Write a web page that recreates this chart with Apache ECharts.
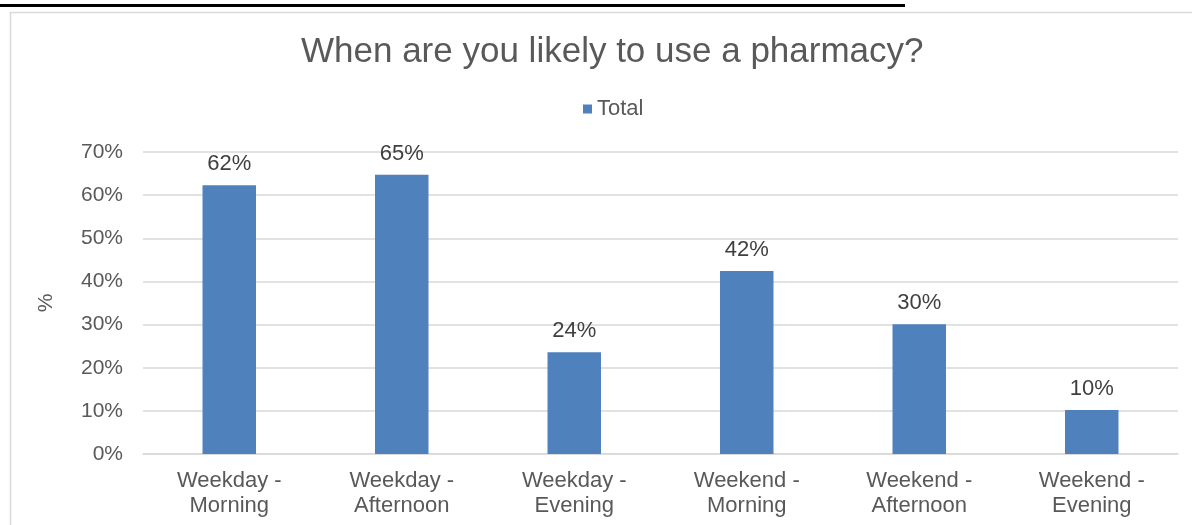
<!DOCTYPE html>
<html><head><meta charset="utf-8">
<script src="https://cdn.jsdelivr.net/npm/echarts@6/dist/echarts.min.js"></script>
<style>html,body{margin:0;padding:0;background:#fff}#c{width:1192px;height:525px}</style>
</head><body><div id="c"></div>
<script>
const title = 'When are you likely to use a pharmacy?';
const seriesName = 'Total';
const categories = ['Weekday -\nMorning','Weekday -\nAfternoon','Weekday -\nEvening','Weekend -\nMorning','Weekend -\nAfternoon','Weekend -\nEvening'];
const values = [62.3, 64.7, 23.6, 42.4, 30.1, 10.2];
const yTicks = [0, 10, 20, 30, 40, 50, 60, 70];

const chart = echarts.init(document.getElementById('c'));
const font = '"Liberation Sans", Arial, sans-serif';
chart.setOption({
  animation: false,
  textStyle: {fontFamily: font},
  graphic: [
    {type:'rect', shape:{x:10.5,y:12.5,width:1300,height:600}, style:{fill:'none',stroke:'#d9d9d9',lineWidth:1.5}, z:-1},
    {type:'rect', shape:{x:0,y:4,width:905,height:3}, style:{fill:'#000'}}
  ],
  title: {text: title, left: 296, top: 30, textStyle:{fontFamily:font, fontSize:35, fontWeight:'normal', color:'#595959'}},
  legend: {data:[seriesName], top: 93, left: 578, itemWidth: 9, itemHeight: 9, icon:'rect', itemGap: 6,
    textStyle:{fontFamily:font, fontSize:22, color:'#595959'}},
  grid: {left: 143, right: 14, top: 152, bottom: 71},
  xAxis: {type:'category', data: categories,
    axisLine:{lineStyle:{color:'#d9d9d9', width:1.5}}, axisTick:{show:false},
    axisLabel:{fontFamily:font, fontSize:22, color:'#595959', lineHeight:25, margin:14, interval:0}},
  yAxis: {type:'value', min:0, max:70, interval:10, name:'%', nameLocation:'middle', nameGap:86, nameRotate:90,
    nameTextStyle:{fontFamily:font, fontSize:21, color:'#595959'},
    axisLabel:{formatter: v => v + '%', fontFamily:font, fontSize:21, color:'#595959', margin:20},
    splitLine:{lineStyle:{color:'#d9d9d9', width:1.5}}, axisLine:{show:false}, axisTick:{show:false}},
  series: [{name: seriesName, type:'bar', data: values, barWidth:'31%', itemStyle:{color:'#4F81BD'},
    label:{show:true, position:'top', distance:10, formatter: p => Math.round(p.value) + '%', fontFamily:font, fontSize:22, color:'#404040'}}]
});
</script></body></html>
